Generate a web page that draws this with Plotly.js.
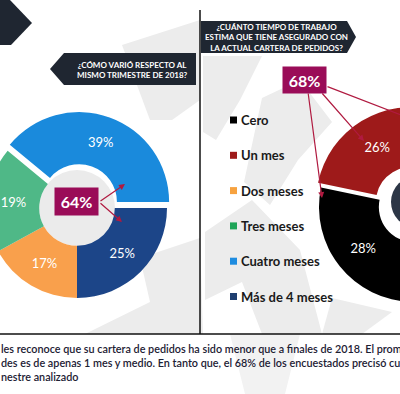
<!DOCTYPE html>
<html>
<head>
<meta charset="utf-8">
<script src="https://cdn.plot.ly/plotly-3.0.1.min.js"></script>
<style>
html,body{margin:0;padding:0;overflow:hidden;background:#fff;width:400px;height:394px;}
#chart{position:absolute;left:-40px;top:0;width:580px;height:394px;}
</style>
</head>
<body>
<div id="chart"></div>
<script>
// ---- data ----
const leftLabels = ['Categoría A', 'Categoría B', 'Categoría C', 'Categoría D'];
const leftValues = [25, 17, 19, 39];
const leftColors = ['#1c4588', '#f9a04c', '#4fb887', '#1a8adc'];

const rightLabels = ['Cero', 'Un mes', 'Dos meses', 'Tres meses', 'Cuatro meses', 'Más de 4 meses'];
const rightValues = [28, 26, 14, 12, 8, 12];
const rightColors = ['#000000', '#9e1a1a', '#f7a23f', '#1ea457', '#1e8ce0', '#1f3f70'];

const leftCallout = '64%';
const rightCallout = '68%';

const leftTitle = '¿CÓMO VARIÓ RESPECTO AL<br>MISMO TRIMESTRE DE 2018?';
const rightTitle = '¿CUÁNTO TIEMPO DE TRABAJO<br>ESTIMA QUE TIENE ASEGURADO CON<br>LA ACTUAL CARTERA DE PEDIDOS?';
const footerLines = [
  'les reconoce que su cartera de pedidos ha sido menor que a finales de 2018. El prom',
  'des es de apenas 1 mes y medio. En tanto que, el 68% de los encuestados precisó cue',
  'nestre analizado'
];

// ---- geometry helpers (screen px -> paper) ----
const OX = 40, W = 580, H = 394;
function dom(cx, cy, R, pull) {
  const h = R * (1 + pull);
  return {
    x: [(cx - h + OX) / W, (cx + h + OX) / W],
    y: [1 - (cy + h) / H, 1 - (cy - h) / H]
  };
}

const FONT = 'Lato, "Open Sans", sans-serif';
const DARK = '#1f2631';
const MAG = '#9a0c58';
const LINE = '#b01a40';
const GREY = '#ececec';

// only the slices that fall inside the picture carry a label
const rightText = rightValues.map((v, i) => (i < 2 ? '%{value}%' : ''));

const traces = [
  {type: 'scatter', x: [], y: [], showlegend: false, hoverinfo: 'skip'},
  {
    type: 'pie', labels: leftLabels, values: leftValues, sort: false,
    direction: 'clockwise', rotation: 90, hole: 0.42,
    pull: [0, 0, 0, 0.07],
    marker: {colors: leftColors, line: {width: 0}},
    texttemplate: '%{value}%', textposition: 'inside',
    insidetextorientation: 'horizontal',
    textfont: {family: FONT, size: 13, color: '#ffffff'},
    domain: dom(77, 208, 90, 0.07), showlegend: false, hoverinfo: 'none'
  },
  {
    type: 'pie', labels: rightLabels, values: rightValues, sort: false,
    direction: 'clockwise', rotation: 181, hole: 0.37,
    pull: [0, 0.06, 0, 0, 0, 0],
    marker: {colors: rightColors, line: {width: 0}},
    texttemplate: rightText, textposition: 'inside',
    insidetextorientation: 'horizontal',
    textfont: {family: FONT, size: 13, color: '#ffffff'},
    domain: dom(414, 207, 95, 0.06), showlegend: false, hoverinfo: 'none'
  }
];

function poly(pts, color, layer) {
  return {type: 'path', xref: 'x', yref: 'y', layer: layer || 'below',
    path: 'M' + pts.map(p => p.join(',')).join('L') + 'Z',
    fillcolor: color, line: {width: 0}};
}

const shapes = [
  // watermark
  poly([[122,45],[200,20],[200,100],[172,120],[150,120]], GREY),
  poly([[140,258],[200,238],[203,334],[85,334],[150,302]], GREY),
  poly([[203,56],[262,56],[240,100],[216,140],[203,132]], GREY),
  poly([[262,98],[300,80],[332,122],[298,160],[270,205],[244,182]], GREY),
  poly([[205,232],[252,200],[300,250],[322,334],[262,334],[242,282],[205,300]], GREY),
  poly([[332,298],[392,312],[362,334],[322,334]], GREY),
  poly([[230,334],[300,334],[285,394],[245,394]], '#f2f2f2'),
  // donut hole discs
  {type: 'circle', xref: 'x', yref: 'y', layer: 'below', x0: 39, x1: 115, y0: 170, y1: 246, fillcolor: '#ebebeb', line: {width: 0}},
  {type: 'circle', xref: 'x', yref: 'y', layer: 'below', x0: 391, x1: 443, y0: 176, y1: 228, fillcolor: '#2c3646', line: {width: 0}},
  // banners
  poly([[0,0],[10,0],[32,23],[11,45],[0,45]], DARK, 'above'),
  poly([[50,69],[64,53],[196,53],[196,85],[64,85]], DARK, 'above'),
  poly([[201,21],[347,21],[356,37],[347,53],[201,53]], DARK, 'above'),
  // frame lines
  {type: 'line', xref: 'x', yref: 'y', x0: 200, x1: 200, y0: 10, y1: 334, line: {color: '#111', width: 1.5}, layer: 'above'},
  {type: 'line', xref: 'x', yref: 'y', x0: -40, x1: 540, y0: 334, y1: 334, line: {color: '#111', width: 1.5}, layer: 'above'}
];

// legend (manual, from data arrays)
const annotations = [];
rightLabels.forEach((lab, i) => {
  const y = 120 + i * 35.3;
  shapes.push({type: 'rect', xref: 'x', yref: 'y', layer: 'above',
    x0: 230, x1: 237, y0: y - 3.5, y1: y + 3.5, fillcolor: rightColors[i], line: {width: 0}});
  annotations.push({xref: 'x', yref: 'y', x: 239, y: y, xanchor: 'left', yanchor: 'middle',
    text: lab, showarrow: false, font: {family: FONT, size: 13, color: '#1a1a1a', weight: 'bold'}});
});

// banner titles
annotations.push({xref: 'x', yref: 'y', x: 132, y: 70, text: leftTitle, showarrow: false,
  align: 'center', font: {family: FONT, size: 8, color: '#fff', weight: 'bold'}});
annotations.push({xref: 'x', yref: 'y', x: 276, y: 37.5, text: rightTitle, showarrow: false,
  align: 'center', font: {family: FONT, size: 8, color: '#fff', weight: 'bold'}});

// callout arrows
function arrow(tx, ty, hx, hy, head) {
  annotations.push({xref: 'x', yref: 'y', axref: 'x', ayref: 'y', x: hx, y: hy, ax: tx, ay: ty,
    text: '', showarrow: true, arrowhead: head === false ? 0 : 2, arrowsize: 1, arrowwidth: 1.2,
    arrowcolor: LINE, standoff: 0, startstandoff: 0});
}
arrow(99, 202, 125, 184);
arrow(99, 202, 122, 222);
arrow(308, 92, 322, 198);
arrow(321, 92, 364, 141);
arrow(326, 86, 440, 130, false);

// callout boxes
annotations.push({xref: 'x', yref: 'y', x: 76.5, y: 201.5, text: leftCallout, showarrow: false,
  bgcolor: MAG, width: 35, height: 19, borderpad: 4,
  font: {family: FONT, size: 16, color: '#fff', weight: 'bold'}});
annotations.push({xref: 'x', yref: 'y', x: 304.5, y: 80, text: rightCallout, showarrow: false,
  bgcolor: MAG, width: 35, height: 18, borderpad: 4,
  font: {family: FONT, size: 16, color: '#fff', weight: 'bold'}});

// footer text
footerLines.forEach((t, i) => {
  annotations.push({xref: 'x', yref: 'y', x: -1, y: 348 + i * 14.3, xanchor: 'left', yanchor: 'middle',
    text: t, showarrow: false, font: {family: FONT, size: 10.8, color: '#1c2033', weight: 600}});
});

const layout = {
  width: W, height: H, margin: {l: 0, r: 0, t: 0, b: 0},
  paper_bgcolor: '#ffffff', plot_bgcolor: 'rgba(0,0,0,0)',
  xaxis: {range: [-OX, W - OX], visible: false, fixedrange: true},
  yaxis: {range: [H, 0], visible: false, fixedrange: true},
  showlegend: false, shapes: shapes, annotations: annotations
};

Plotly.newPlot('chart', traces, layout, {staticPlot: true, displayModeBar: false});
</script>
</body>
</html>
